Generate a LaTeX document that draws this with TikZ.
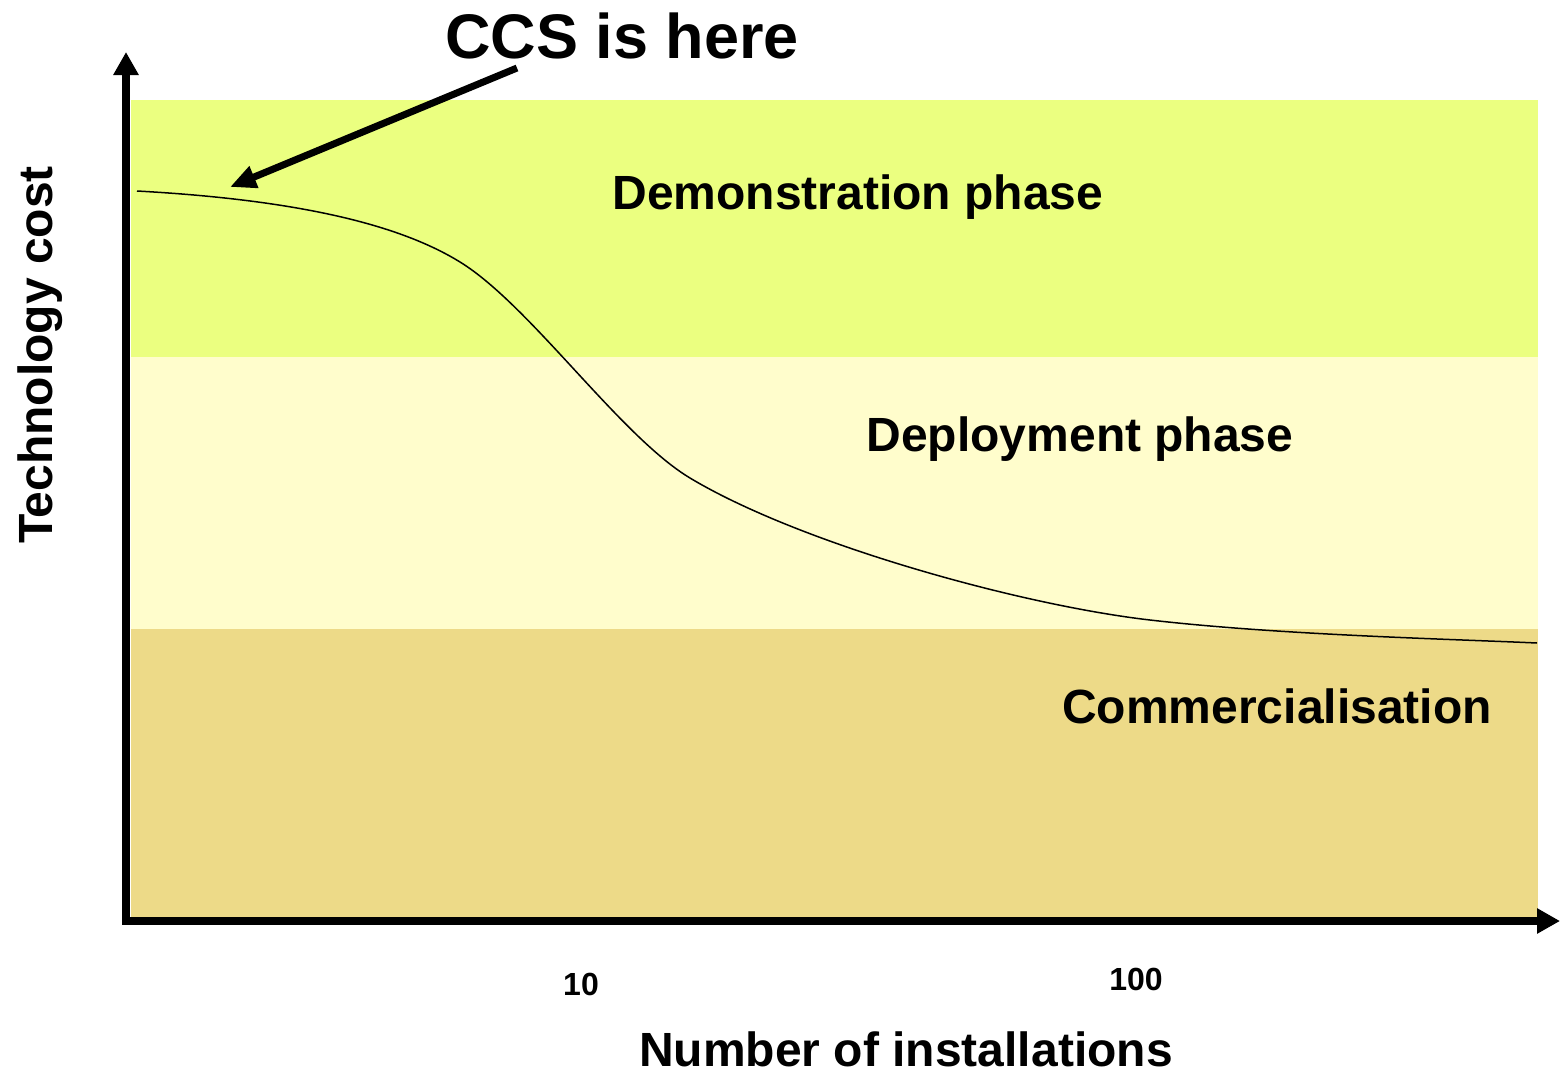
\documentclass[tikz,border=0pt]{standalone}
\usepackage{fontspec}
\setmainfont{Liberation Sans}
\usetikzlibrary{arrows.meta}
\definecolor{demoband}{RGB}{235,255,128}
\definecolor{deployband}{RGB}{255,253,204}
\definecolor{commband}{RGB}{237,218,136}
\tikzset{
  px/.style={x=1pt,y=-1pt},
  label48/.style={font=\fontsize{48}{52}\selectfont\bfseries, inner sep=0pt, anchor=base},
  tick32/.style={font=\fontsize{32}{34}\selectfont\bfseries, inner sep=0pt, anchor=base},
  axisline/.style={line width=8pt, -{Triangle[length=23pt,width=24pt]}},
  pointer/.style={line width=7pt, -{Triangle[length=26pt,width=22pt]}},
  costcurve/.style={line width=1.5pt, black}
}
\begin{document}
\begin{tikzpicture}[px]
  \useasboundingbox (0,0) rectangle (1560,1074);
  % phase bands
  \fill[demoband]   (131,100) rectangle (1538,357);
  \fill[deployband] (131,357) rectangle (1538,629);
  \fill[commband]   (131,629) rectangle (1538,917);
  % phase labels
  \node[label48] (demo)   at (858,209)  {Demonstration phase};
  \node[label48] (deploy) at (1080,451) {Deployment phase};
  \node[label48] (comm)   at (1277,723) {Commercialisation};
  % cost curve
  \draw[costcurve] (137,191)
    .. controls (300,200) and (400,225) .. (460,262)
    .. controls (530,305) and (620,436) .. (690,478)
    .. controls (800,544) and (1020,605) .. (1150,620)
    .. controls (1280,635) and (1450,639) .. (1537,643);
  % axes
  \coordinate (origin) at (126,921);
  \coordinate (ytop)   at (126,52);
  \coordinate (xend)   at (1560,921);
  \draw[line width=8pt] (122,921) -- (origin);
  \draw[axisline] (origin) -- (ytop);
  \draw[axisline] (origin) -- (xend);
  % tick labels
  \node[tick32] (t10)  at (581,995) {10};
  \node[tick32] (t100) at (1136,990) {100};
  % axis titles
  \node[label48] (xtitle) at (906,1066) {Number of installations};
  \node[label48, rotate=90] (ytitle) at (52,355) {Technology cost};
  % pointer to the start of the curve
  \node[font=\fontsize{63}{68}\selectfont\bfseries, inner sep=0pt, anchor=base] (ccs) at (622,58) {CCS is here};
  \coordinate (ccstail) at (517,68);
  \coordinate (ccstip)  at (230,187);
  \draw[pointer] (ccstail) -- (ccstip);
\end{tikzpicture}
\end{document}
